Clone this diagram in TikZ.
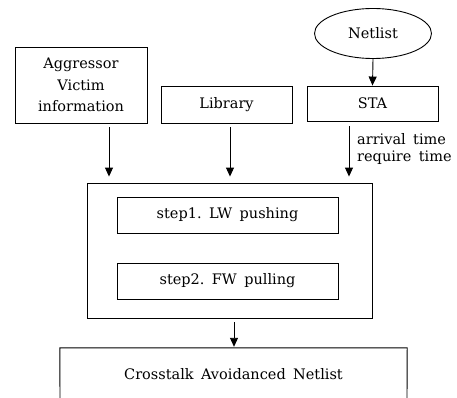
\documentclass[tikz,border=0pt]{standalone}
\usepackage{fontspec}
\setmainfont[WordSpace=1.6]{DejaVu Serif}
\usetikzlibrary{shapes.geometric,arrows.meta}
\begin{document}
\begin{tikzpicture}[x=1pt,y=-1pt,
  every node/.style={font=\fontsize{14.5}{21.5}\selectfont, inner sep=0pt},
  box/.style={draw, line width=0.9pt, rectangle, align=center},
  arr/.style={line width=0.9pt, -{Triangle[width=8pt,length=9pt]}},
  lbl/.style={anchor=west}]
\useasboundingbox (0,0) rectangle (457,398);
\node[draw, line width=0.9pt, ellipse, minimum width=117pt, minimum height=50pt] (netlist) at (373,33.5) {Netlist};
\node[box, minimum width=132pt, minimum height=76pt] (agg) at (81,85) {Aggressor\\Victim\\information};
\node[box, minimum width=131pt, minimum height=37pt] (lib) at (226.5,104.5) {Library};
\node[box, minimum width=131pt, minimum height=35pt] (sta) at (372.5,103.5) {STA};
\node[box, minimum width=285pt, minimum height=135pt] (big) at (229.5,250.5) {};
\node[box, minimum width=221pt, minimum height=36pt] (s1) at (227.5,215) {step1.\ LW pushing};
\node[box, minimum width=221pt, minimum height=36pt] (s2) at (227.5,281) {step2.\ FW pulling};
\node[minimum width=347pt, minimum height=52pt] (out) at (233.5,374) {Crosstalk Avoidanced Netlist};
\draw[line width=0.9pt] (60,400) -- (out.north west) -- (out.north east) -- (407,400);
\node[lbl] (arrt) at (357,139) {arrival time};
\node[lbl] (reqt) at (357,158) {require time};
\draw[arr] (netlist.south) -- (sta.north);
\draw[arr, shorten <=4pt, shorten >=6pt] ([xshift=28pt]agg.south) -- ([xshift=28pt]agg.south |- big.north);
\draw[arr, shorten <=4pt, shorten >=6pt] ([xshift=3.5pt]lib.south) -- ([xshift=3.5pt]lib.south |- big.north);
\draw[arr, shorten <=5pt, shorten >=6pt] ([xshift=-23.5pt]sta.south) -- ([xshift=-23.5pt]sta.south |- big.north);
\draw[arr, shorten <=4pt, shorten >=1pt] ([xshift=4.5pt]big.south) -- ([xshift=4.5pt]big.south |- out.north);
\end{tikzpicture}
\end{document}
